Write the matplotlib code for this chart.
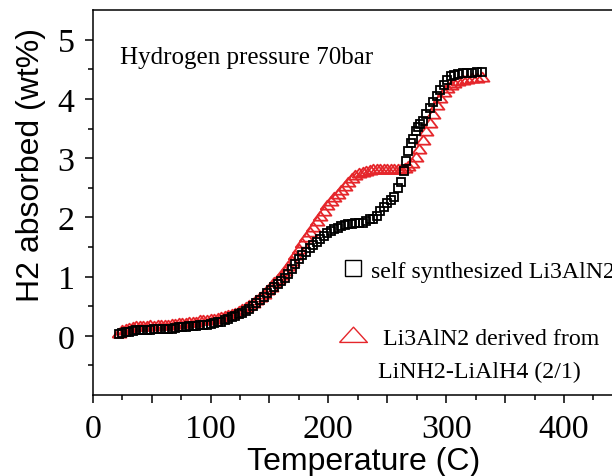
import numpy as np
import matplotlib
matplotlib.use('Agg')
import matplotlib.pyplot as plt
from matplotlib.lines import Line2D

# self synthesized Li3AlN2 (black squares)
temp_self = [22, 25, 28, 31, 34, 37, 40, 43, 46, 49, 52, 55, 58, 61, 64, 67,
             70, 73, 76, 79, 82, 85, 88, 91, 94, 97, 100, 103, 106, 109, 112,
             115, 118, 121, 124, 127, 130, 133, 136, 139, 142, 145, 148, 151,
             154, 157, 160, 163, 166, 169, 172, 175, 178, 181, 184, 187, 190,
             193, 196, 199, 202, 205, 208, 211, 214, 217, 220, 223, 226, 229,
             232, 235, 238, 241, 244, 247, 250, 253, 256, 259, 262, 264, 266,
             268, 270, 272, 274, 276, 278, 280, 283, 286, 289, 292, 295, 298,
             301, 304, 307, 310, 314, 318, 322, 326, 330]
h2_self = [0.03, 0.05, 0.06, 0.07, 0.08, 0.09, 0.09, 0.10, 0.10, 0.10, 0.11,
           0.11, 0.11, 0.12, 0.12, 0.12, 0.13, 0.14, 0.14, 0.15, 0.16, 0.16,
           0.17, 0.18, 0.19, 0.19, 0.20, 0.22, 0.23, 0.24, 0.26, 0.28, 0.31,
           0.33, 0.36, 0.39, 0.42, 0.46, 0.50, 0.55, 0.60, 0.66, 0.72, 0.77,
           0.83, 0.88, 0.93, 0.98, 1.04, 1.12, 1.21, 1.29, 1.36, 1.42, 1.48,
           1.53, 1.58, 1.63, 1.69, 1.74, 1.77, 1.80, 1.82, 1.85, 1.87, 1.88,
           1.89, 1.90, 1.90, 1.91, 1.94, 1.97, 1.98, 2.02, 2.10, 2.17, 2.24,
           2.29, 2.35, 2.50, 2.60, 2.78, 2.95, 3.12, 3.25, 3.33, 3.45, 3.53,
           3.58, 3.63, 3.74, 3.84, 3.94, 4.05, 4.15, 4.24, 4.32, 4.38, 4.41,
           4.42, 4.43, 4.44, 4.44, 4.45, 4.45]

# Li3AlN2 derived from LiNH2-LiAlH4 (2/1) (red triangles)
temp_derived = [22, 25, 28, 31, 34, 37, 40, 43, 46, 49, 52, 55, 58, 61, 64,
                67, 70, 73, 76, 79, 82, 85, 88, 91, 94, 97, 100, 103, 106, 109,
                112, 115, 118, 121, 124, 127, 130, 133, 136, 139, 142, 145,
                148, 151, 154, 157, 160, 163, 166, 169, 172, 175, 178, 181,
                184, 187, 190, 193, 196, 199, 202, 205, 208, 211, 214, 217,
                220, 223, 226, 229, 232, 235, 238, 241, 244, 247, 250, 253,
                256, 259, 262, 265, 268, 271, 274, 277, 280, 283, 286, 289,
                292, 295, 298, 301, 304, 307, 310, 314, 318, 322, 326, 330]
h2_derived = [0.05, 0.10, 0.12, 0.13, 0.15, 0.17, 0.17, 0.17, 0.17, 0.18,
              0.17, 0.18, 0.19, 0.18, 0.19, 0.20, 0.20, 0.21, 0.21, 0.22,
              0.23, 0.24, 0.24, 0.26, 0.26, 0.27, 0.28, 0.29, 0.30, 0.31,
              0.33, 0.35, 0.37, 0.39, 0.42, 0.45, 0.49, 0.52, 0.56, 0.61,
              0.66, 0.71, 0.77, 0.83, 0.90, 0.96, 1.03, 1.10, 1.18, 1.27,
              1.37, 1.47, 1.57, 1.66, 1.75, 1.84, 1.93, 2.02, 2.11, 2.20,
              2.27, 2.34, 2.40, 2.47, 2.53, 2.60, 2.66, 2.71, 2.75, 2.77,
              2.79, 2.80, 2.81, 2.81, 2.81, 2.81, 2.81, 2.81, 2.81, 2.81,
              2.82, 2.83, 2.86, 2.92, 3.02, 3.15, 3.30, 3.45, 3.60, 3.75,
              3.90, 4.02, 4.11, 4.18, 4.23, 4.27, 4.30, 4.32, 4.34, 4.35,
              4.36, 4.37]

label_self = 'self synthesized Li3AlN2'
label_derived = '  Li3AlN2 derived from'
label_derived_2 = 'LiNH2-LiAlH4 (2/1)'
note = 'Hydrogen pressure 70bar'

red = '#e5262b'
serif = 'Liberation Serif'
sans = 'Liberation Sans'
# flat triangle markers (data / legend)
tri = [(-1, -0.6), (1, -0.6), (0, 0.7), (-1, -0.6)]
tri_leg = [(-1, -0.5), (1, -0.5), (0, 0.6), (-1, -0.5)]

fig = plt.figure(figsize=(6.12, 4.77), dpi=100)
ax = fig.add_axes([0.1515, 0.1698, 0.8856, 0.807])

ax.plot(temp_derived, h2_derived, linestyle='none', marker=tri, ms=10,
        mfc='none', mec=red, mew=1.3)
ax.plot(temp_self, h2_self, linestyle='none', marker='s', ms=5.2,
        mfc='none', mec='black', mew=1.3)

ax.set_xlim(0, 460)
ax.set_ylim(-1, 5.5)
ax.set_xticks(np.arange(0, 451, 50))
ax.set_xticklabels([str(v) if v % 100 == 0 else '' for v in range(0, 451, 50)])
ax.set_xticks(np.arange(25, 451, 50), minor=True)
ax.set_yticks(np.arange(0, 6, 1))
ax.set_yticks(np.arange(-0.5, 5.5, 1), minor=True)

for s in ax.spines.values():
    s.set_linewidth(1.1)
ax.tick_params(which='major', length=6, width=1.1, direction='out')
ax.tick_params(which='minor', length=3.5, width=1.1, direction='out')
ax.tick_params(axis='x', pad=7)
ax.tick_params(axis='y', pad=7)
for t in ax.get_xticklabels() + ax.get_yticklabels():
    t.set_fontfamily(serif)
    t.set_fontsize(24.5)

ax.set_xlabel('Temperature (C)', family=sans, fontsize=23, va='center')
ax.xaxis.set_label_coords(0.5, -0.171)
ax.set_ylabel('H2 absorbed (wt%)', family=sans, fontsize=23, va='center')
ax.yaxis.set_label_coords(-0.114, 0.6)

fig.text(120 / 612, 1 - 58 / 477, note, family=serif, fontsize=18,
         ha='left', va='center')

handles = [
    Line2D([], [], linestyle='none', marker='s', ms=12, mfc='none',
           mec='black', mew=1.0),
    Line2D([], [], linestyle='none', marker=tri_leg, ms=20, mfc='none',
           mec=red, mew=1.0),
]
leg = ax.legend(handles, [label_self, label_derived], loc='upper left',
                bbox_to_anchor=(339 / 612, 1 - 261 / 477),
                bbox_transform=fig.transFigure, frameon=False,
                prop={'family': serif, 'size': 17.2}, borderpad=0,
                handlelength=1.2, handletextpad=0.15, labelspacing=1.9,
                borderaxespad=0)
fig.text(378 / 612, 1 - 372 / 477, label_derived_2, family=serif,
         fontsize=17.2, ha='left', va='center')

fig.savefig('out.png', dpi=100)
